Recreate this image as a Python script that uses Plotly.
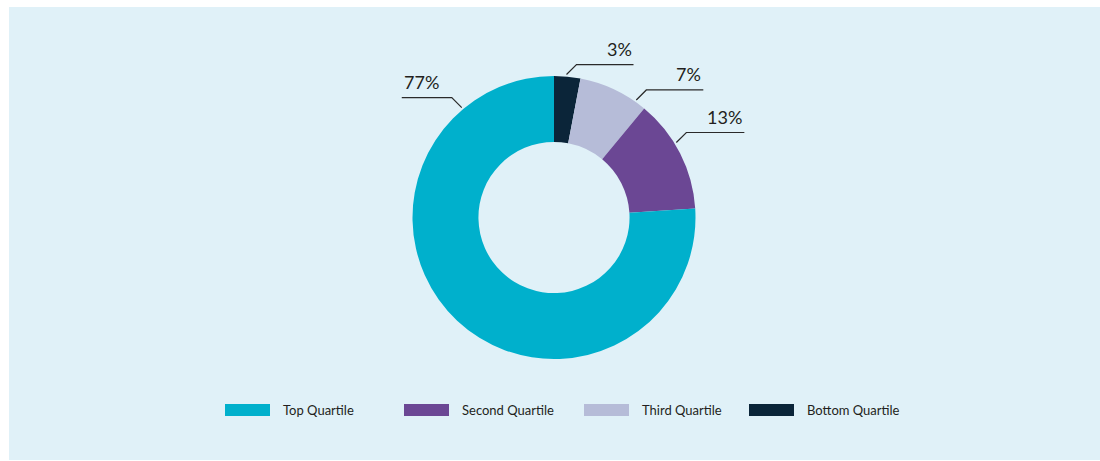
import math
import plotly.graph_objects as go

# ---- data ----
categories = ["Top Quartile", "Second Quartile", "Third Quartile", "Bottom Quartile"]
slice_share = [76, 13, 8, 3]          # share as drawn
label_text = ["77%", "13%", "7%", "3%"]  # printed labels
colors = ["#00b0cc", "#6b4794", "#b6bcd8", "#0b2539"]

# ---- layout constants (pixels) ----
W, H = 1100, 461
cx, cy, R = 554.0, 217.5, 141.5
hole = 0.534
leader_angle = [-40, 58.5, 35, 5]       # degrees clockwise from 12 o'clock
leader_side = [-1, 1, 1, 1]
leader_hlen = [50, 58, 57, 57]
R_lead = 143.5
legend_x = [225, 404, 584, 749]
legend_y = 410
text_color = "#231f20"
line_color = "#2a2a2a"
font_family = "Lato, 'Open Sans', sans-serif"


def fx(px):
    return px / W


def fy(py):
    return 1 - py / H


# slices are drawn clockwise from 12 o'clock starting with the bottom quartile
fig = go.Figure()
fig.add_trace(go.Pie(
    labels=categories[::-1],
    values=slice_share[::-1],
    marker=dict(colors=colors[::-1], line=dict(width=0)),
    hole=hole,
    sort=False,
    direction="clockwise",
    rotation=0,
    textinfo="none",
    showlegend=False,
    domain=dict(x=[fx(cx - R), fx(cx + R)], y=[fy(cy + R), fy(cy - R)]),
    hovertemplate="%{label}: %{value}%<extra></extra>",
))

shapes = [dict(type="rect", xref="paper", yref="paper",
               x0=fx(9), x1=1, y0=fy(460), y1=fy(7),
               fillcolor="#e0f1f8", line=dict(width=0), layer="below")]
annotations = []

for ang, side, hl, txt in zip(leader_angle, leader_side, leader_hlen, label_text):
    t = math.radians(ang)
    sx = cx + R_lead * math.sin(t)
    sy = cy - R_lead * math.cos(t)
    kx = sx + side * 10
    ky = sy - 10
    ex = kx + side * hl
    path = f"M {fx(sx)},{fy(sy)} L {fx(kx)},{fy(ky)} L {fx(ex)},{fy(ky)}"
    shapes.append(dict(type="path", xref="paper", yref="paper", path=path,
                       line=dict(color=line_color, width=1.2)))
    annotations.append(dict(
        x=fx(ex), y=fy(ky - 3), xref="paper", yref="paper",
        xanchor="right" if side > 0 else "left", yanchor="bottom",
        text=txt, showarrow=False,
        font=dict(size=18, color=text_color, family=font_family),
    ))

# custom legend
for lx, name, col in zip(legend_x, categories, colors):
    shapes.append(dict(type="rect", xref="paper", yref="paper",
                       x0=fx(lx), x1=fx(lx + 45), y0=fy(legend_y + 6), y1=fy(legend_y - 6),
                       fillcolor=col, line=dict(width=0)))
    annotations.append(dict(
        x=fx(lx + 56), y=fy(legend_y), xref="paper", yref="paper",
        xanchor="left", yanchor="middle", text=name, showarrow=False,
        font=dict(size=13, color=text_color, family=font_family),
    ))

fig.update_layout(
    width=W, height=H,
    margin=dict(l=0, r=0, t=0, b=0),
    paper_bgcolor="white",
    plot_bgcolor="white",
    shapes=shapes,
    annotations=annotations,
    showlegend=False,
)

fig.write_html("out.html")
